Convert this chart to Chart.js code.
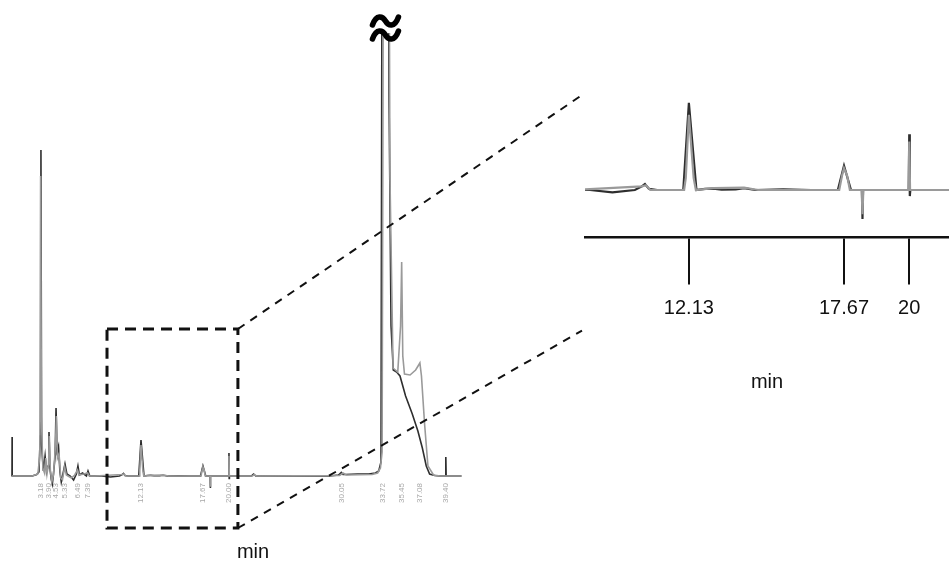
<!DOCTYPE html>
<html>
<head>
<meta charset="utf-8">
<script src="https://cdn.jsdelivr.net/npm/chart.js@4/dist/chart.umd.min.js"></script>
<style>
  html, body { margin: 0; padding: 0; background: #ffffff; }
  #wrap { position: relative; width: 949px; height: 571px; }
  #wrap canvas { position: absolute; left: 0; top: 0; }
</style>
</head>
<body>
<div id="wrap">
  <canvas id="main" width="949" height="571"></canvas>
  <canvas id="inset" width="949" height="571"></canvas>
</div>
<script>
// Detector trace (time in min, signal in mAU), darker overlay run
const traceA = [
  [0.59, 0], [0.60, 39], [0.61, 0], [2.4, 0], [2.8, 1.5], [3.0, 4], [3.12, 40], [3.18, 326], [3.24, 30],
  [3.4, 5], [3.55, 20], [3.68, 4], [3.82, 10], [3.90, 44], [3.98, 8], [4.1, -3], [4.2, -8], [4.3, 2],
  [4.45, 20], [4.53, 68], [4.62, 25], [4.75, 30], [4.88, 4], [5.0, -6], [5.15, 2], [5.33, 12], [5.5, 2],
  [5.8, 0], [6.1, -4], [6.35, 2], [6.49, 10], [6.62, 1], [6.9, 3], [7.25, 0], [7.39, 5], [7.55, 0],
  [8.6, 0], [9.4, -1], [10.2, 0], [10.45, 1.5], [10.56, 2.5], [10.7, 0.5], [11.0, 0], [11.93, 0],
  [12.13, 36], [12.4, 0], [12.7, 0.5], [13.0, 0.6], [13.3, 0.2], [13.8, 0.3],
  [14.1, 0.8], [14.5, 0], [15.5, 0.3], [16.5, 0], [17.45, 0], [17.67, 10],
  [17.92, 0], [18.31, 0], [18.33, -12], [18.35, 0], [19.98, 0], [20.0, 23], [20.02, -2.5], [20.04, 0],
  [22.0, 0], [22.2, 2], [22.4, 0], [29.0, 0], [29.8, 1], [30.05, 3.5], [30.2, 1.5], [30.4, 1.5],
  [31.5, 2], [32.5, 2], [33.1, 3], [33.4, 5], [33.6, 14], [33.72, 700], [34.22, 700], [34.32, 380],
  [34.5, 150], [34.7, 106], [35.0, 104], [35.3, 100], [35.8, 80], [36.4, 62], [36.9, 45], [37.3, 28],
  [37.65, 10], [37.95, 2], [38.4, 0.5], [38.9, 0], [39.37, 0], [39.4, 19], [39.43, 0], [40.8, 0]
];

// Second overlaid run (lighter)
const traceB = [
  [0.59, 0], [2.4, 0], [2.9, 2], [3.08, 20], [3.15, 300], [3.22, 60], [3.35, 8], [3.5, 3], [3.6, 18],
  [3.72, 2], [3.86, 12], [3.93, 40], [4.02, 6], [4.15, -6], [4.3, 1], [4.48, 30], [4.56, 60], [4.66, 18],
  [4.8, 22], [4.95, -2], [5.1, -4], [5.3, 9], [5.45, 1], [5.9, -2], [6.2, 1], [6.45, 6], [6.6, 1],
  [7.0, 2], [7.35, 3], [7.5, 0], [8.0, 0], [10.45, 1.5], [10.6, 2], [10.75, 0], [11.96, 0], [12.02, 5],
  [12.13, 31], [12.3, 5], [12.38, 0], [13.0, 0.8], [14.1, 1], [14.6, 0], [17.5, 0], [17.6, 6],
  [17.67, 9], [17.78, 6], [17.88, 0], [18.3, 0], [18.33, -10], [18.36, 0], [19.98, 0], [20.0, 20],
  [20.03, 0], [22.1, 0], [22.25, 1.5], [22.45, 0], [29.9, 0.5], [30.2, 3], [30.5, 1], [32.8, 1.5],
  [33.3, 3], [33.55, 8], [33.7, 24], [33.85, 700], [34.28, 700], [34.4, 300], [34.68, 108], [35.1, 104],
  [35.35, 150], [35.45, 214], [35.55, 120], [35.7, 102], [36.2, 101], [36.7, 106], [37.08, 113],
  [37.22, 100], [37.5, 52], [37.8, 10], [38.3, 1], [38.9, 0], [40.8, 0]
];

// Retention times printed along the trace
const peakTimes = [3.18, 3.90, 4.53, 5.33, 6.49, 7.39, 12.13, 17.67, 20.00, 30.05, 33.72, 35.45, 37.08, 39.40];

// Retention times marked on the enlarged axis
const insetTicks = [12.13, 17.67, 20];

// Time window that is enlarged (min)
const zoomStart = 9.09;
const zoomEnd = 20.8;

const FONT = "'Liberation Sans', Arial, sans-serif";

function toPoints(arr) { return arr.map(p => ({ x: p[0], y: p[1] })); }

function datasets(widthA, widthB) {
  return [
    { data: toPoints(traceB), borderColor: '#9a9a9a', borderWidth: widthB, pointRadius: 0, tension: 0 },
    { data: toPoints(traceA), borderColor: '#2e2e2e', borderWidth: widthA, pointRadius: 0, tension: 0 }
  ];
}

// Break mark at the top of the off-scale peak, plus the rotated retention-time labels
const mainDecor = {
  id: 'mainDecor',
  afterDatasetsDraw(chart) {
    const { ctx, chartArea, scales } = chart;
    const x = scales.x, y = scales.y;
    ctx.save();
    // rotated retention times under the baseline
    ctx.fillStyle = '#a8a8a8';
    ctx.font = '8px ' + FONT;
    ctx.textAlign = 'right';
    ctx.textBaseline = 'middle';
    const y0 = y.getPixelForValue(0);
    peakTimes.forEach(t => {
      ctx.save();
      ctx.translate(x.getPixelForValue(t), y0 + 7);
      ctx.rotate(-Math.PI / 2);
      ctx.fillText(t.toFixed(2), 0, 0);
      ctx.restore();
    });
    // break symbol (two stacked tildes)
    const cx = x.getPixelForValue(34.0);
    ctx.strokeStyle = '#000';
    ctx.lineWidth = 5.5;
    ctx.lineCap = 'round';
    [chartArea.top - 12, chartArea.top + 2].forEach(cy => {
      ctx.beginPath();
      ctx.moveTo(cx - 13, cy + 4);
      ctx.bezierCurveTo(cx - 9, cy - 7, cx - 3, cy - 5, cx, cy);
      ctx.bezierCurveTo(cx + 3, cy + 5, cx + 9, cy + 7, cx + 13, cy - 4);
      ctx.stroke();
    });
    ctx.restore();
  }
};

const mainChart = new Chart(document.getElementById('main'), {
  type: 'line',
  data: { datasets: datasets(1.6, 1.6) },
  options: {
    responsive: false,
    animation: false,
    devicePixelRatio: 1,
    layout: { padding: { left: 5.4, right: 448.4, top: 33, bottom: 7 } },
    plugins: { legend: { display: false }, tooltip: { enabled: false } },
    scales: {
      x: {
        type: 'linear', min: 0, max: 44.3,
        ticks: { display: false },
        grid: { display: false, drawTicks: false },
        border: { display: false },
        title: { display: true, text: 'min', color: '#111', font: { family: FONT, size: 20 }, padding: { top: 44, bottom: 0 } }
      },
      y: { min: -20, max: 443, display: false }
    }
  },
  plugins: [mainDecor]
});

// Dashed window on the full trace and the lines leading to the enlarged view
const zoomFrame = {
  id: 'zoomFrame',
  afterDraw(chart) {
    const mx = mainChart.scales.x, my = mainChart.scales.y;
    const iy = chart.scales.y;
    const left = mx.getPixelForValue(zoomStart), right = mx.getPixelForValue(zoomEnd);
    const top = my.getPixelForValue(147), bottom = my.getPixelForValue(-52);
    const ctx = chart.ctx;
    ctx.save();
    ctx.strokeStyle = '#111';
    ctx.lineWidth = 3;
    ctx.setLineDash([11, 7]);
    ctx.strokeRect(left, top, right - left, bottom - top);
    ctx.lineWidth = 2;
    ctx.setLineDash([8, 7]);
    const ex = chart.chartArea.left - 3;
    ctx.beginPath();
    ctx.moveTo(right, top);
    ctx.lineTo(ex, iy.getPixelForValue(39.2));
    ctx.moveTo(right, bottom);
    ctx.lineTo(ex, iy.getPixelForValue(-58));
    ctx.stroke();
    ctx.restore();
  }
};

new Chart(document.getElementById('inset'), {
  type: 'line',
  data: { datasets: datasets(2.2, 2.2) },
  options: {
    responsive: false,
    animation: false,
    devicePixelRatio: 1,
    layout: { padding: { left: 585, right: 0, top: 81, bottom: 177 } },
    plugins: { legend: { display: false }, tooltip: { enabled: false } },
    scales: {
      x: {
        type: 'linear', min: 8.42, max: 21.42,
        afterBuildTicks: s => { s.ticks = insetTicks.map(v => ({ value: v })); },
        ticks: {
          color: '#111', padding: 12, maxRotation: 0, autoSkip: false,
          font: { family: FONT, size: 20 },
          callback: v => String(v)
        },
        grid: { display: true, drawOnChartArea: false, drawTicks: true, tickLength: 47, color: '#111', lineWidth: 2 },
        border: { display: true, color: '#111', width: 2.5 },
        title: { display: true, text: 'min', color: '#111', font: { family: FONT, size: 20 }, padding: { top: 51, bottom: 0 } }
      },
      y: { min: -19.6, max: 45, display: false }
    }
  },
  plugins: [zoomFrame]
});
</script>
</body>
</html>
